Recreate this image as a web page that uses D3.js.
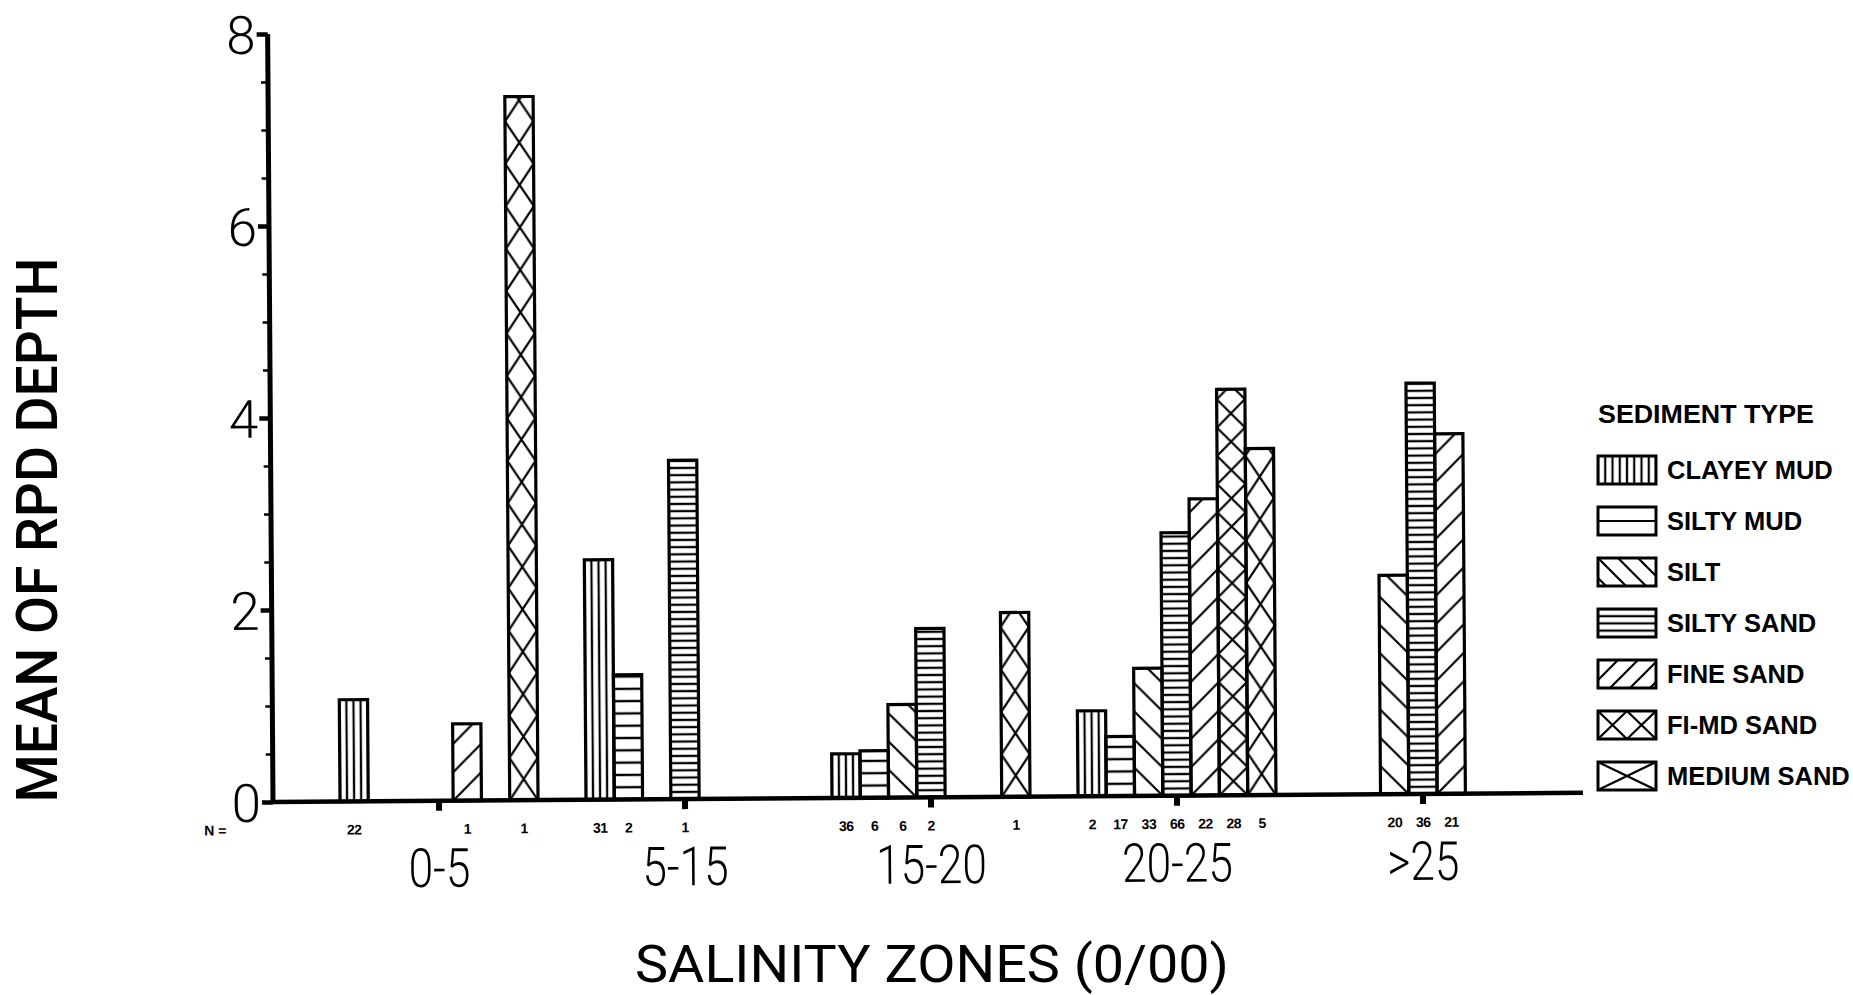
<!DOCTYPE html>
<html>
<head>
<meta charset="utf-8">
<script src="https://cdn.jsdelivr.net/npm/d3@7"></script>
<style>
  body { margin: 0; background: #fff; }
  svg { display: block; }
</style>
</head>
<body>
<svg id="chart" width="1853" height="995"></svg>
<script>
var zones = ['0-5', '5-15', '15-20', '20-25', '>25'];
var types = ['CLAYEY MUD', 'SILTY MUD', 'SILT', 'SILTY SAND', 'FINE SAND', 'FI-MD SAND', 'MEDIUM SAND'];

// mean RPD depth per salinity zone, one array per sediment type (null = no bar)
var clayeyMud  = [1.06, 2.50, 0.46, 0.89, null];
var siltyMud   = [null, 1.30, 0.49, 0.62, null];
var silt       = [null, null, 0.97, 1.33, 2.28];
var siltySand  = [null, 3.53, 1.76, 2.74, 4.28];
var fineSand   = [0.80, null, null, 3.09, 3.75];
var fiMdSand   = [null, null, null, 4.23, null];
var mediumSand = [7.33, null, 1.92, 3.61, null];

// sample counts (N) under each bar
var nClayeyMud  = [22, 31, 36, 2, null];
var nSiltyMud   = [null, 2, 6, 17, null];
var nSilt       = [null, null, 6, 33, 20];
var nSiltySand  = [null, 1, 2, 66, 36];
var nFineSand   = [1, null, null, 22, 21];
var nFiMdSand   = [null, null, null, 28, null];
var nMediumSand = [1, null, 1, 5, null];

var yTicks = [0, 2, 4, 6, 8];

var series = [clayeyMud, siltyMud, silt, siltySand, fineSand, fiMdSand, mediumSand];
var counts = [nClayeyMud, nSiltyMud, nSilt, nSiltySand, nFineSand, nFiMdSand, nMediumSand];

var bars = [];
series.forEach(function (s, t) {
    s.forEach(function (v, z) {
        if (v != null) bars.push({zone: zones[z], type: types[t], ti: t, value: v, n: counts[t][z]});
    });
});

var svg = d3.select('#chart');
svg.append('rect').attr('width', 1853).attr('height', 995).attr('fill', '#fff');
var defs = svg.append('defs');

var y = d3.scaleLinear().domain([0, 8]).range([802, 34]);
var x0 = d3.scaleBand().domain(zones).range([340, 1522]).paddingInner(0.195);
var x1 = d3.scaleBand().domain(types).range([0, x0.bandwidth()]);
var bw = x1.bandwidth();
var axisX = 273;

// hatch kinds per sediment type
var kinds = ['vert', 'horiz', 'back', 'horiz', 'fwd', 'cross', 'cross'];

function tileFor(ti, w, h, legend) {
    if (ti === 0) return [legend ? w / 8 : w / 4, 20];
    if (ti === 1) return [20, legend ? h / 2 : 12.3];
    if (ti === 2 || ti === 4) return legend ? [20, 20] : [w, w];
    if (ti === 3) return [20, 7.2];
    if (ti === 5) return legend ? [w / 2, h] : [w, w];
    return legend ? [w, h] : [w, w * 1.5];
}

function makePattern(id, kind, px, py, tw, th) {
    var p = defs.append('pattern').attr('id', id)
        .attr('patternUnits', 'userSpaceOnUse')
        .attr('x', px).attr('y', py).attr('width', tw).attr('height', th);
    var d;
    if (kind === 'vert') d = 'M0,0V' + th + 'M' + tw + ',0V' + th;
    else if (kind === 'horiz') d = 'M0,0H' + tw + 'M0,' + th + 'H' + tw;
    else if (kind === 'back') d = 'M0,0L' + tw + ',' + th + 'M-3,' + (th - 3) + 'L3,' + (th + 3) + 'M' + (tw - 3) + ',-3L' + (tw + 3) + ',3';
    else if (kind === 'fwd') d = 'M0,' + th + 'L' + tw + ',0M-3,3L3,-3M' + (tw - 3) + ',' + (th + 3) + 'L' + (tw + 3) + ',' + (th - 3);
    else d = 'M0,0L' + tw + ',' + th + 'M' + tw + ',0L0,' + th;
    p.append('path').attr('d', d).attr('fill', 'none')
        .attr('stroke', '#000').attr('stroke-width', 2.2);
}

// plot group, tilted slightly like the scanned original
var plot = svg.append('g').attr('transform', 'rotate(-0.4,' + axisX + ',' + y(0) + ')');

bars.forEach(function (d, i) {
    d.x = x0(d.zone) + x1(d.type);
    var t = tileFor(d.ti, bw, 0, false);
    makePattern('bar' + i, kinds[d.ti], d.x, y(0), t[0], t[1]);
});

plot.selectAll('rect.bar')
    .data(bars)
    .join('rect')
    .attr('class', 'bar')
    .attr('x', function (d) { return d.x; })
    .attr('y', function (d) { return y(d.value); })
    .attr('width', bw)
    .attr('height', function (d) { return y(0) - y(d.value); })
    .attr('fill', function (d, i) { return 'url(#bar' + i + ')'; })
    .attr('stroke', '#000')
    .attr('stroke-width', 3.2);

// y axis: minor ticks every 0.5, major ticks with labels
var minor = plot.append('g').attr('transform', 'translate(' + axisX + ',0)')
    .call(d3.axisLeft(y).tickValues(d3.range(0, 8.01, 0.5)).tickSize(7).tickFormat(''));
minor.select('.domain').remove();
minor.selectAll('line').attr('stroke-width', 2.5);

var major = plot.append('g').attr('transform', 'translate(' + axisX + ',0)')
    .call(d3.axisLeft(y).tickValues(yTicks).tickSize(11).tickPadding(1).tickFormat(d3.format('d')));
major.select('.domain').remove();
major.selectAll('line').attr('stroke-width', 4.5);
major.selectAll('text')
    .attr('dy', '0.36em')
    .style('font-family', 'Roboto, "Liberation Sans", sans-serif')
    .style('font-weight', 300)
    .style('font-size', '53px')
    .attr('fill', '#000');

// x axis
var xa = plot.append('g').attr('transform', 'translate(0,' + y(0) + ')')
    .call(d3.axisBottom(x0).tickSize(10).tickSizeOuter(0));
xa.select('.domain').remove();
xa.selectAll('line').attr('stroke-width', 6);
xa.selectAll('text')
    .attr('y', 86).attr('dy', 0)
    .attr('transform', 'scale(0.82,1)')
    .style('font-family', 'Roboto, "Liberation Sans", sans-serif')
    .style('font-weight', 300)
    .style('font-size', '54px')
    .attr('fill', '#000');

plot.append('line')
    .attr('x1', axisX).attr('x2', 1583)
    .attr('y1', y(0)).attr('y2', y(0))
    .attr('stroke', '#000').attr('stroke-width', 4.5);
plot.append('line')
    .attr('x1', axisX).attr('x2', axisX)
    .attr('y1', y(0) + 2).attr('y2', y(8))
    .attr('stroke', '#000').attr('stroke-width', 5);

// N labels
var nFont = '"Liberation Sans", Arial, sans-serif';
plot.append('text')
    .attr('x', 204).attr('y', y(0) + 33)
    .style('font-family', nFont).style('font-weight', 'bold').style('font-size', '14px')
    .text('N =');
plot.selectAll('text.n')
    .data(bars.filter(function (d) { return d.n != null; }))
    .join('text')
    .attr('class', 'n')
    .attr('text-anchor', 'middle')
    .attr('x', function (d) { return d.x + bw / 2; })
    .attr('y', y(0) + 33)
    .style('font-family', nFont).style('font-weight', 'bold').style('font-size', '14px')
    .style('letter-spacing', '-0.5px')
    .text(function (d) { return d.n; });

// axis titles
var titleFont = 'Roboto, "Liberation Sans", Arial, sans-serif';
svg.append('text')
    .attr('x', 932).attr('y', 982)
    .attr('text-anchor', 'middle')
    .attr('textLength', 594).attr('lengthAdjust', 'spacingAndGlyphs')
    .style('font-family', titleFont).style('font-weight', 400).style('font-size', '52px')
    .text('SALINITY ZONES (0/00)');
svg.append('text')
    .attr('transform', 'translate(57,530) rotate(-90)')
    .attr('text-anchor', 'middle')
    .attr('textLength', 545).attr('lengthAdjust', 'spacingAndGlyphs')
    .style('font-family', titleFont).style('font-weight', 500).style('font-size', '58px')
    .text('MEAN OF RPD DEPTH');

// legend
var lx = 1598, boxW = 58, boxH = 28, rowStep = 51, firstRow = 470;
svg.append('text')
    .attr('x', lx).attr('y', 423)
    .attr('textLength', 216).attr('lengthAdjust', 'spacingAndGlyphs')
    .style('font-family', nFont).style('font-weight', 'bold').style('font-size', '26px')
    .text('SEDIMENT TYPE');

var legend = svg.append('g');
types.forEach(function (t, i) {
    var cy = firstRow + i * rowStep;
    var top = cy - boxH / 2;
    var tile = tileFor(i, boxW, boxH, true);
    makePattern('leg' + i, kinds[i], lx, top, tile[0], tile[1]);
    legend.append('rect')
        .attr('x', lx).attr('y', top)
        .attr('width', boxW).attr('height', boxH)
        .attr('fill', 'url(#leg' + i + ')')
        .attr('stroke', '#000').attr('stroke-width', 3);
    legend.append('text')
        .attr('x', lx + 69).attr('y', cy + 9)
        .style('font-family', nFont).style('font-weight', 'bold').style('font-size', '25.5px')
        .text(t);
});
</script>
</body>
</html>
